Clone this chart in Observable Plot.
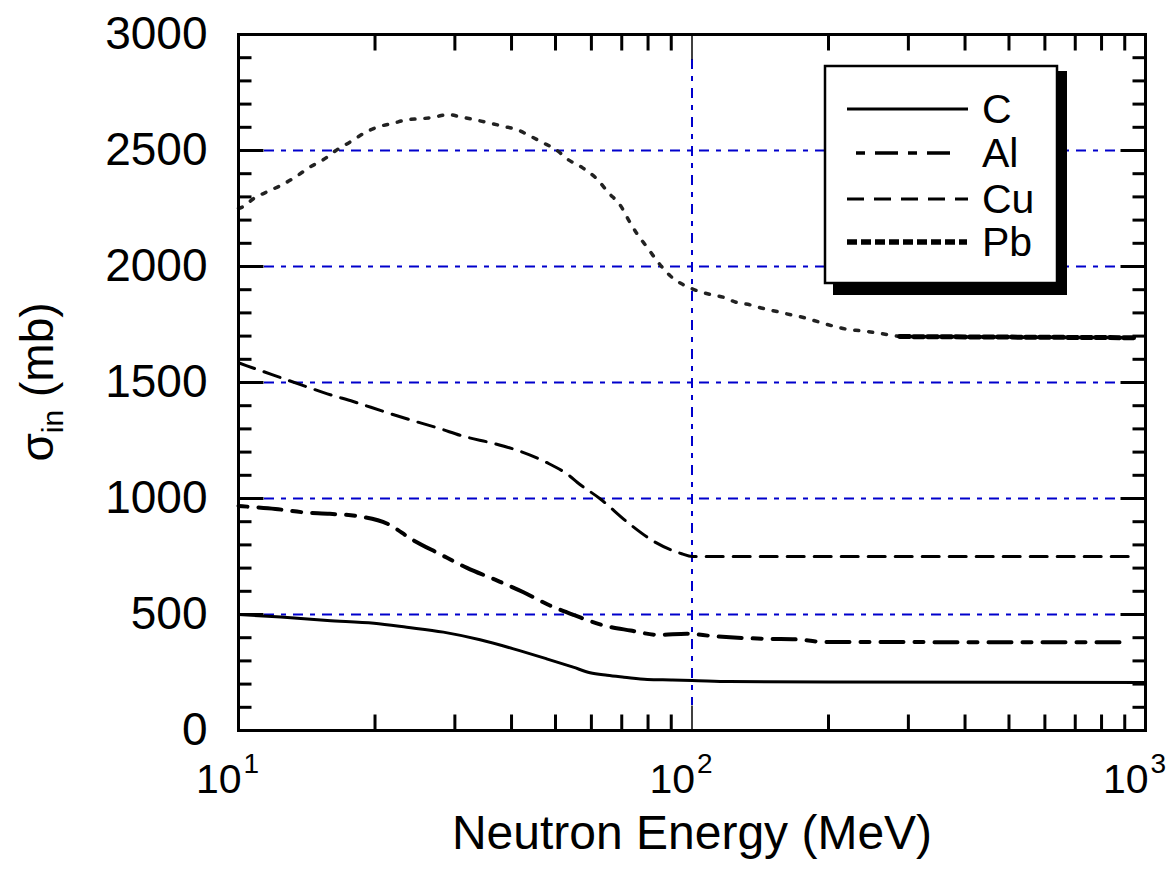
<!DOCTYPE html>
<html>
<head>
<meta charset="utf-8">
<script src="https://cdn.jsdelivr.net/npm/d3@7"></script>
<script src="https://cdn.jsdelivr.net/npm/@observablehq/plot@0.6"></script>
<style>
  body { margin: 0; background: #fff; }
  #wrap { position: relative; width: 1170px; height: 880px; font-family: "Liberation Sans", Arial, Helvetica, sans-serif; }
  #ylabel { position: absolute; left: 41px; top: 382px; transform: translate(-50%, -50%) rotate(-90deg); font-size: 46px; white-space: nowrap; color: #000; line-height: 1; }
  #ylabel sub { font-size: 30px; vertical-align: -0.35em; }
</style>
</head>
<body>
<div id="wrap"></div>
<script>
// ---- data ----
const energyC = [10, 12.4, 15.7, 19.9, 23.5, 28.3, 34.1, 40.4, 47.8, 54.7, 59.6, 65, 70.8, 79.7, 90, 100, 121, 200, 1000];
const sigmaC  = [500, 489, 474, 462, 445, 424, 391, 352, 309, 273, 249, 238, 230, 220, 218, 216, 211, 209, 207];

const energyAl = [10, 10.45, 12.06, 13.8, 15.9, 18.3, 21.3, 24.2, 27.7, 31.9, 36.8, 42.5, 48.6, 55.2, 63.8, 73.2, 84.4, 97.4, 111, 147, 169, 195, 918];
const sigmaAl  = [968, 965, 955, 941, 934, 924, 891, 822, 762, 701, 650, 596, 539, 496, 453, 431, 412, 417, 407, 395, 393, 382, 380];

const energyCu = [10, 10.4, 11.9, 13.7, 15.7, 17.9, 20.9, 23.9, 27.6, 31.5, 36.4, 41.7, 47.7, 53.9, 55.8, 62.7, 72, 82.9, 94.9, 100, 918];
const sigmaCu  = [1585, 1573, 1533, 1491, 1451, 1418, 1375, 1339, 1303, 1267, 1238, 1204, 1156, 1095, 1070, 999, 898, 812, 762, 750, 750];

const energyPb = [10, 10.2, 10.8, 11.6, 12.5, 13.4, 14.3, 15.4, 16.4, 17.7, 19.0, 20.5, 21.9, 23.6, 25.3, 26.9, 29.0, 30.7, 33.1, 35.5, 38.4, 41.1, 44.2, 46.9, 50.4, 53.3, 57.3, 61.5, 65.3, 69.8, 72.6, 75.6, 79.6, 84.0, 89.4, 95.5, 102.5, 110, 117, 125, 134, 143, 153, 165, 177, 191, 205, 219, 235, 250, 269, 287, 960];
const sigmaPb  = [2250, 2256, 2293, 2323, 2353, 2388, 2426, 2461, 2500, 2539, 2577, 2604, 2617, 2633, 2637, 2643, 2655, 2646, 2633, 2620, 2604, 2590, 2560, 2534, 2500, 2461, 2426, 2380, 2320, 2258, 2198, 2142, 2083, 2021, 1961, 1922, 1896, 1879, 1868, 1846, 1835, 1820, 1807, 1792, 1779, 1760, 1743, 1730, 1723, 1717, 1707, 1698, 1693];
const pbFlatFrom = 287; // Pb drawn with heavier dashes from here on

const seriesNames = ["C", "Al", "Cu", "Pb"];

// ---- axes ----
const yMajor = [0, 500, 1000, 1500, 2000, 2500, 3000];
const yTickLabels = ["0", "500", "1000", "1500", "2000", "2500", "3000"];
const yMinor = [100, 200, 300, 400, 600, 700, 800, 900, 1100, 1200, 1300, 1400, 1600, 1700, 1800, 1900, 2100, 2200, 2300, 2400, 2600, 2700, 2800, 2900];
const xMajor = [10, 100, 1000];
const xTickBase = ["10", "10", "10"];
const xTickExp = ["1", "2", "3"];
const xMinor = [20, 30, 40, 50, 60, 70, 80, 90, 200, 300, 400, 500, 600, 700, 800, 900];
const gridY = [500, 1000, 1500, 2000, 2500];
const gridX = [100];
const xLabel = "Neutron Energy (MeV)";

const rows = (E, V) => E.map((e, i) => ({E: e, v: V[i]}));
const dataC = rows(energyC, sigmaC);
const dataAl = rows(energyAl, sigmaAl);
const dataCu = rows(energyCu, sigmaCu);
const dataPb = rows(energyPb, sigmaPb);

const tickSym = (dx, dy) => ({draw(ctx) { ctx.moveTo(0, 0); ctx.lineTo(dx, dy); }});
const tickOpts = (chan, anchor, sym, w) => ({[chan]: d => d, frameAnchor: anchor, symbol: sym, r: 1, fill: "none", stroke: "#000", strokeWidth: w});

const grid = "#0000cc";
const gridDash = "10,7,5,7";

const chart = Plot.plot({
  width: 1170,
  height: 880,
  marginLeft: 238,
  marginRight: 25,
  marginTop: 34,
  marginBottom: 150,
  style: {fontFamily: '"Liberation Sans", Arial, Helvetica, sans-serif', background: "#fff", overflow: "visible"},
  x: {type: "log", domain: [10, 1000], axis: null},
  y: {domain: [0, 3000], axis: null},
  marks: [
    Plot.ruleY(gridY, {y: d => d, stroke: grid, strokeWidth: 2, strokeDasharray: gridDash, insetLeft: 26, insetRight: 26}),
    Plot.ruleX(gridX, {x: d => d, stroke: grid, strokeWidth: 2, strokeDasharray: gridDash, insetTop: 25, insetBottom: 25}),
    // curves
    Plot.line(dataC, {x: "E", y: "v", stroke: "#000", strokeWidth: 3, curve: "monotone-x"}),
    Plot.line(dataAl, {x: "E", y: "v", stroke: "#000", strokeWidth: 4, strokeDasharray: "9,11,23,11", curve: "monotone-x"}),
    Plot.line(dataCu, {x: "E", y: "v", stroke: "#000", strokeWidth: 3, strokeDasharray: "17,10", curve: "monotone-x"}),
    Plot.line(dataPb.filter(d => d.E <= pbFlatFrom), {x: "E", y: "v", stroke: "#222", strokeWidth: 3.5, strokeDasharray: "4,10", curve: "monotone-x"}),
    Plot.line(dataPb.filter(d => d.E >= pbFlatFrom), {x: "E", y: "v", stroke: "#000", strokeWidth: 5, strokeDasharray: "10,4", curve: "monotone-x"}),
    // ticks
    Plot.dot(yMinor, tickOpts("y", "left", tickSym(13, 0), 3)),
    Plot.dot(yMajor, tickOpts("y", "left", tickSym(25, 0), 3)),
    Plot.dot(yMinor, tickOpts("y", "right", tickSym(-13, 0), 3)),
    Plot.dot(yMajor, tickOpts("y", "right", tickSym(-25, 0), 3)),
    Plot.dot(xMinor, tickOpts("x", "bottom", tickSym(0, -16), 3)),
    Plot.dot(xMinor, tickOpts("x", "top", tickSym(0, 16), 3)),
    Plot.dot(gridX, tickOpts("x", "bottom", tickSym(0, -25), 1.5)),
    Plot.dot(gridX, tickOpts("x", "top", tickSym(0, 25), 1.5)),
    Plot.frame({stroke: "#000", strokeWidth: 3}),
    // tick labels
    Plot.text(yMajor, {y: d => d, text: (d, i) => yTickLabels[i], frameAnchor: "left", textAnchor: "end", dx: -31, fontSize: 46, fill: "#000"}),
    Plot.text(xMajor, {x: d => d, text: (d, i) => xTickBase[i], frameAnchor: "bottom", textAnchor: "end", dx: 3, dy: 62, fontSize: 41, fill: "#000"}),
    Plot.text(xMajor, {x: d => d, text: (d, i) => xTickExp[i], frameAnchor: "bottom", textAnchor: "start", dx: 5, dy: 42, fontSize: 28, fill: "#000"}),
    Plot.text([xLabel], {text: d => d, frameAnchor: "bottom", dy: 118, fontSize: 48, fill: "#000"})
  ]
});

const wrap = document.getElementById("wrap");
wrap.appendChild(chart);

// y-axis label with subscript
const yl = document.createElement("div");
yl.id = "ylabel";
yl.innerHTML = "σ<sub>in</sub> (mb)";
wrap.appendChild(yl);

// legend overlay
const ns = "http://www.w3.org/2000/svg";
const leg = document.createElementNS(ns, "svg");
leg.setAttribute("width", 1170);
leg.setAttribute("height", 880);
leg.style.position = "absolute";
leg.style.left = "0";
leg.style.top = "0";
leg.style.pointerEvents = "none";
const legStyles = [
  {x1: 847, x2: 968, w: 3, dash: null},
  {x1: 856, x2: 952, w: 3.5, dash: "9,10,23,10"},
  {x1: 847, x2: 968, w: 3, dash: "17,10"},
  {x1: 847, x2: 967, w: 5.5, dash: "10,4"}
];
const legRowY = [109, 153, 199, 242];
let html = `<rect x="833" y="71" width="234" height="224" fill="#000"/>` +
  `<rect x="825" y="66" width="232" height="217" fill="#fff" stroke="#000" stroke-width="2.5"/>`;
seriesNames.forEach((name, i) => {
  const s = legStyles[i];
  html += `<line x1="${s.x1}" x2="${s.x2}" y1="${legRowY[i]}" y2="${legRowY[i]}" stroke="#000" stroke-width="${s.w}"${s.dash ? ` stroke-dasharray="${s.dash}"` : ""}/>`;
  html += `<text x="982" y="${legRowY[i]}" dy="0.35em" font-size="41" font-family="Liberation Sans, Arial, sans-serif" fill="#000">${name}</text>`;
});
leg.innerHTML = html;
wrap.appendChild(leg);
</script>
</body>
</html>
